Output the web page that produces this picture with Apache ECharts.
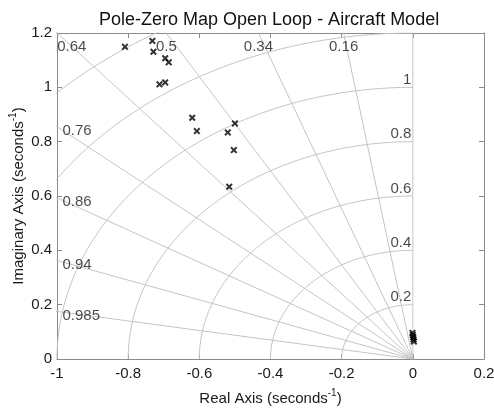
<!DOCTYPE html>
<html>
<head>
<meta charset="utf-8">
<script src="https://cdn.jsdelivr.net/npm/echarts@6/dist/echarts.min.js"></script>
<style>
  html, body { margin: 0; padding: 0; background: #fff; }
  #chart { width: 494px; height: 408px; }
</style>
</head>
<body>
<div id="chart"></div>
<script>
// Open-loop poles of the aircraft model (real, imaginary parts)
const poleRe = [-0.809, -0.732, -0.729, -0.696, -0.686, -0.712, -0.696,
                -0.620, -0.607, -0.520, -0.500, -0.503, -0.516,
                -0.001, 0.000, 0.001, 0.002, 0.003];
const poleIm = [1.149, 1.171, 1.131, 1.107, 1.092, 1.011, 1.018,
                0.888, 0.839, 0.834, 0.867, 0.769, 0.634,
                0.096, 0.088, 0.080, 0.072, 0.064];

// s-plane grid: damping ratio rays and natural frequency arcs
const zetaValues = [0.16, 0.34, 0.5, 0.64, 0.76, 0.86, 0.94, 0.985];
const zetaLabels = ['0.16', '0.34', '0.5', '0.64', '0.76', '0.86', '0.94', '0.985'];
const wnValues = [0.2, 0.4, 0.6, 0.8, 1.0, 1.2, 1.4];
const wnLabels = ['0.2', '0.4', '0.6', '0.8', '1'];

// axis ranges and tick labels
const xTicks = ['-1', '-0.8', '-0.6', '-0.4', '-0.2', '0', '0.2'];
const yTicks = ['0', '0.2', '0.4', '0.6', '0.8', '1', '1.2'];
const xMin = -1, xMax = 0.2, yMin = 0, yMax = 1.2, step = 0.2;

const FONT = 'Liberation Sans, Arial, Helvetica, sans-serif';
const GRID_COLOR = '#c4c4c4';
const TEXT_COLOR = '#1a1a1a';
const AXIS_COLOR = '#8a8a8a';

const gridSeries = [];

// natural frequency arcs in the left half plane
wnValues.forEach(function (wn) {
  const pts = [];
  for (let i = 0; i <= 90; i++) {
    const th = Math.PI / 2 + (i / 90) * (Math.PI / 2);
    pts.push([wn * Math.cos(th), wn * Math.sin(th)]);
  }
  gridSeries.push({
    type: 'line', data: pts, showSymbol: false, silent: true, clip: true,
    lineStyle: { color: GRID_COLOR, width: 1 }, z: 1, animation: false
  });
});

// constant damping rays from the origin
zetaValues.forEach(function (z) {
  const R = 3;
  gridSeries.push({
    type: 'line', data: [[0, 0], [-z * R, Math.sqrt(1 - z * z) * R]],
    showSymbol: false, silent: true, clip: true,
    lineStyle: { color: GRID_COLOR, width: 1 }, z: 1, animation: false
  });
});

// imaginary axis (zero damping)
gridSeries.push({
  type: 'line', data: [[0, 0], [0, yMax]], showSymbol: false, silent: true,
  lineStyle: { color: GRID_COLOR, width: 1 }, z: 1, animation: false
});

// damping labels: along the top edge or the left edge where each ray leaves the box
const zetaLabelData = [];
zetaValues.forEach(function (z, i) {
  const s = Math.sqrt(1 - z * z);
  const xTop = -yMax * z / s;
  if (xTop >= xMin - 1e-9) {
    zetaLabelData.push({
      name: zetaLabels[i], value: [Math.max(xTop, xMin), yMax],
      label: {
        position: 'bottom', distance: 6,
        align: xTop < xMin + 0.05 ? 'left' : 'center'
      }
    });
  } else {
    const yLeft = -xMin * s / z;
    zetaLabelData.push({
      name: zetaLabels[i], value: [xMin, yLeft],
      label: { position: 'right', distance: 5, offset: [0, 4] }
    });
  }
});

// natural frequency labels next to the imaginary axis
const wnLabelData = wnLabels.map(function (t, i) {
  return { name: t, value: [0, wnValues[i]] };
});

const labelStyle = {
  show: true, formatter: '{b}', color: TEXT_COLOR,
  fontFamily: FONT, fontSize: 15
};

const nameRich = {
  a: { fontFamily: FONT, fontSize: 15, color: TEXT_COLOR, lineHeight: 18, verticalAlign: 'bottom' },
  s: { fontFamily: FONT, fontSize: 10, color: TEXT_COLOR, lineHeight: 18, verticalAlign: 'top' }
};

function frameAxis(extra) {
  return Object.assign({
    type: 'value', interval: step,
    axisLine: { show: true, onZero: false, lineStyle: { color: AXIS_COLOR, width: 1 } },
    axisTick: { show: true, inside: true, length: 5, lineStyle: { color: AXIS_COLOR } },
    splitLine: { show: false }
  }, extra);
}

const option = {
  animation: false,
  backgroundColor: '#ffffff',
  title: {
    text: 'Pole-Zero Map Open Loop - Aircraft Model',
    left: 99, top: 11, padding: 0,
    textStyle: { fontFamily: FONT, fontSize: 18, fontWeight: 'normal', color: '#111' }
  },
  grid: { left: 57, right: 10, top: 33, bottom: 49, containLabel: false, outerBoundsMode: 'none' },
  xAxis: [
    frameAxis({
      min: xMin, max: xMax, position: 'bottom',
      axisLabel: {
        color: TEXT_COLOR, fontFamily: FONT, fontSize: 15, margin: 7,
        formatter: function (v) { return xTicks[Math.round((v - xMin) / step)]; }
      },
      name: '{a|Real Axis (seconds}{s|-1}{a|)}',
      nameLocation: 'middle', nameGap: 29, nameMoveOverlap: false,
      nameTextStyle: { rich: nameRich }
    }),
    frameAxis({ min: xMin, max: xMax, position: 'top', axisLabel: { show: false } })
  ],
  yAxis: [
    frameAxis({
      min: yMin, max: yMax, position: 'left',
      axisLabel: {
        color: TEXT_COLOR, fontFamily: FONT, fontSize: 15, margin: 5,
        formatter: function (v) { return yTicks[Math.round((v - yMin) / step)]; }
      },
      name: '{a|Imaginary Axis (seconds}{s|-1}{a|)}',
      nameLocation: 'middle', nameGap: 31, nameRotate: 90, nameMoveOverlap: false,
      nameTextStyle: { rich: nameRich }
    }),
    frameAxis({ min: yMin, max: yMax, position: 'right', axisLabel: { show: false } })
  ],
  series: gridSeries.concat([
    {
      type: 'scatter', data: zetaLabelData, symbolSize: 1, silent: true,
      itemStyle: { color: 'rgba(0,0,0,0)' }, label: labelStyle, z: 3
    },
    {
      type: 'scatter', data: wnLabelData, symbolSize: 1, silent: true,
      itemStyle: { color: 'rgba(0,0,0,0)' },
      label: Object.assign({}, labelStyle, { position: 'left', distance: 1, verticalAlign: 'bottom' }),
      z: 3
    },
    {
      type: 'scatter', name: 'Poles',
      data: poleRe.map(function (re, i) { return [re, poleIm[i]]; }),
      symbol: 'path://M2,0L5,3L8,0L10,2L7,5L10,8L8,10L5,7L2,10L0,8L3,5L0,2Z',
      symbolSize: 7, itemStyle: { color: '#000' }, z: 5
    }
  ])
};

const chart = echarts.init(document.getElementById('chart'), null, { renderer: 'canvas' });
chart.setOption(option);
</script>
</body>
</html>
